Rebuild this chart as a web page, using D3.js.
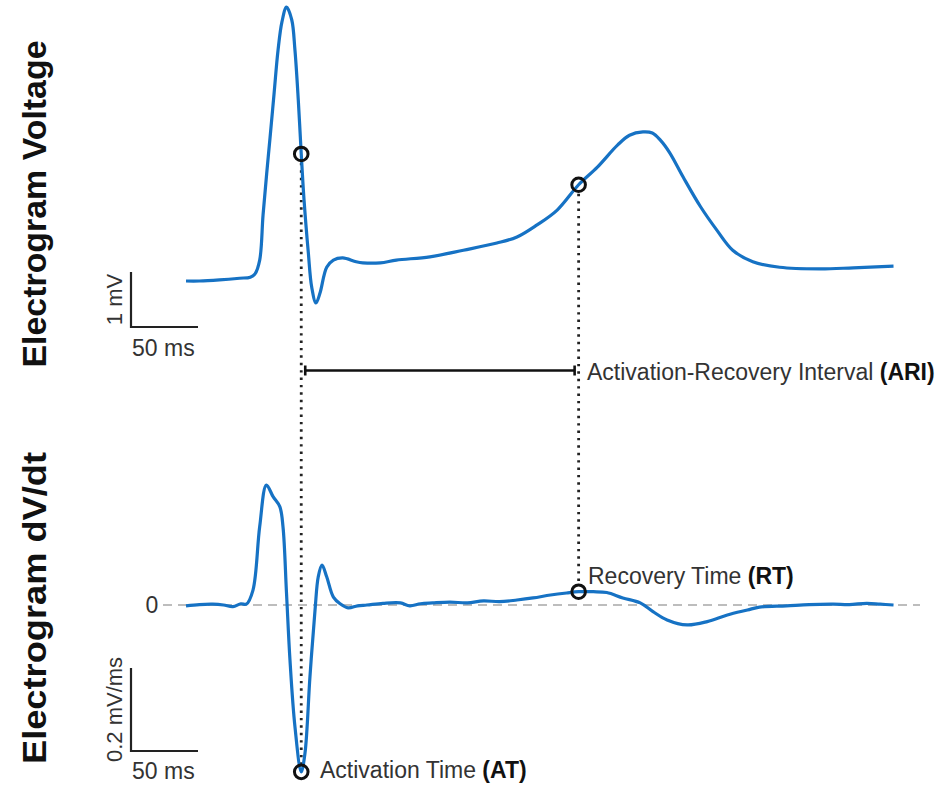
<!DOCTYPE html>
<html>
<head>
<meta charset="utf-8">
<script src="https://cdn.jsdelivr.net/npm/d3@7"></script>
<style>
  body { margin: 0; background: #fff; }
  text { font-family: "Liberation Sans", Arial, sans-serif; }
</style>
</head>
<body>
<div id="chart"></div>
<script>
// electrogram voltage (mV)
var volt_t = [0, 10, 25, 40, 48, 51.5, 55, 57.5, 60.2, 62.7, 65.7, 68.7, 71.6, 75, 78.9, 81.3, 83.8, 86, 88.1, 91.3, 93.8,
	97, 100, 105, 110, 117, 127, 132, 145, 157, 182, 207, 232, 247, 262, 277, 293, 307, 322, 331, 341,
	348, 354, 361, 371, 384, 396, 408, 423, 443, 473, 498, 528];
var volt_v = [0, 0, 0.02, 0.05, 0.07, 0.13, 0.38, 1.2, 1.95, 2.6, 3.4, 4.2, 4.71, 4.98, 4.75, 4.2, 3.29, 2.31, 1.47, 0.51, -0.11,
	-0.4, -0.22, 0.25, 0.38, 0.42, 0.35, 0.33, 0.33, 0.38, 0.44, 0.56, 0.69, 0.8, 1.02, 1.29, 1.75, 2.07, 2.47, 2.65, 2.71,
	2.69, 2.56, 2.33, 1.89, 1.35, 0.93, 0.56, 0.35, 0.25, 0.22, 0.24, 0.27];

// electrogram dV/dt (mV/ms)
var dvdt_t = [0, 10, 20, 28, 35, 41, 45, 50, 55, 60, 65, 70, 72.4, 75, 77.6, 81.3, 86, 88.8, 92.5, 96.3,
	98.7, 101.5, 105, 110, 115, 121, 128, 135, 147, 160, 167, 175, 184, 197, 210, 222, 234, 247, 259, 272,
	284, 293, 304, 314, 326, 339, 348.5, 359, 374, 389, 404, 419, 428, 448, 465, 483, 495, 508, 518, 528];
var dvdt_v = [-0.002, 0.001, 0.002, 0.0, -0.004, 0.003, 0.002, 0.036, 0.189, 0.289, 0.261, 0.237, 0.188, 0.029, -0.133, -0.293, -0.402, -0.357, -0.173, -0.012,
	0.068, 0.096, 0.068, 0.019, 0.003, -0.007, -0.002, 0, 0.004, 0.005, -0.002, 0.003, 0.005, 0.007, 0.005, 0.01, 0.008, 0.012, 0.017, 0.024,
	0.029, 0.032, 0.032, 0.03, 0.017, 0.005, -0.016, -0.036, -0.048, -0.040, -0.024, -0.012, -0.005, -0.002, 0.001, 0.002, 0.001, 0.004, 0.002, 0];

// markers (ms)
var at_time = 86;
var rt_time = 293;

// scale bar sizes and labels
var bar_ms = 50;
var bar_mv = 1;
var bar_dvdt = 0.2;
var titles = ['Electrogram Voltage', 'Electrogram dV/dt'];


var chart_width  = 938;
var chart_height = 788;
var trace_color  = '#1672c4';

var svg = d3.select('#chart')
	.append('svg')
	.attr('width', chart_width)
	.attr('height', chart_height);

// scales
var x_scale = d3.scaleLinear()
	.domain([0, 530])
	.range([186, 896.2]);

var y_volt = d3.scaleLinear()
	.domain([0, 5])
	.range([281, 6]);

var y_dvdt = d3.scaleLinear()
	.domain([-0.4, 0.3])
	.range([771, 480.5]);

var volt_data = volt_t.map(function(t, i){ return [t, volt_v[i]]; });
var dvdt_data = dvdt_t.map(function(t, i){ return [t, dvdt_v[i]]; });

function value_at(data, t){
	return data.find(function(d){ return d[0] === t; })[1];
}

// zero line (dV/dt)
svg.append('line')
	.attr('x1', 163)
	.attr('x2', 920)
	.attr('y1', y_dvdt(0))
	.attr('y2', y_dvdt(0))
	.attr('stroke', '#a8a8a8')
	.attr('stroke-width', 1.5)
	.attr('stroke-dasharray', '9,6');

svg.append('text')
	.attr('x', 152)
	.attr('y', y_dvdt(0) + 8)
	.attr('text-anchor', 'middle')
	.attr('font-size', 23)
	.attr('fill', '#333')
	.text('0');

// dotted guide lines
[at_time, rt_time].forEach(function(t){
	svg.append('line')
		.attr('x1', x_scale(t))
		.attr('x2', x_scale(t))
		.attr('y1', y_volt(value_at(volt_data, t)) + 9)
		.attr('y2', y_dvdt(value_at(dvdt_data, t)) - 7)
		.attr('stroke', '#222')
		.attr('stroke-width', 2.8)
		.attr('stroke-dasharray', '2.4,5');
});

// traces
var line = function(y){
	return d3.line()
		.x(function(d){ return x_scale(d[0]); })
		.y(function(d){ return y(d[1]); })
		.curve(d3.curveCatmullRom.alpha(0.5));
};

svg.append('path')
	.datum(volt_data)
	.attr('d', line(y_volt))
	.attr('fill', 'none')
	.attr('stroke', trace_color)
	.attr('stroke-width', 3.2)
	.attr('stroke-linejoin', 'round');

svg.append('path')
	.datum(dvdt_data)
	.attr('d', line(y_dvdt))
	.attr('fill', 'none')
	.attr('stroke', trace_color)
	.attr('stroke-width', 3.2)
	.attr('stroke-linejoin', 'round');

// marker circles
var markers = [
	[at_time, y_volt(value_at(volt_data, at_time))],
	[rt_time, y_volt(value_at(volt_data, rt_time))],
	[at_time, y_dvdt(value_at(dvdt_data, at_time))],
	[rt_time, y_dvdt(value_at(dvdt_data, rt_time))]
];

svg.selectAll('circle.marker')
	.data(markers)
	.enter()
	.append('circle')
	.attr('class', 'marker')
	.attr('cx', function(d){ return x_scale(d[0]); })
	.attr('cy', function(d){ return d[1]; })
	.attr('r', 6.8)
	.attr('fill', 'none')
	.attr('stroke', '#111')
	.attr('stroke-width', 3);

// ARI bracket
var ari_y = 370.5;
var ari_x1 = x_scale(at_time) + 4;
var ari_x2 = x_scale(rt_time) - 4;
svg.append('line')
	.attr('x1', ari_x1).attr('x2', ari_x2)
	.attr('y1', ari_y).attr('y2', ari_y)
	.attr('stroke', '#111').attr('stroke-width', 2.6);
[ari_x1, ari_x2].forEach(function(x){
	svg.append('line')
		.attr('x1', x).attr('x2', x)
		.attr('y1', ari_y - 5).attr('y2', ari_y + 5)
		.attr('stroke', '#111').attr('stroke-width', 2.6);
});

// annotations
function label(x, y, normal, bold){
	var t = svg.append('text')
		.attr('x', x)
		.attr('y', y)
		.attr('font-size', 23)
		.attr('fill', '#333');
	t.append('tspan').text(normal);
	t.append('tspan').attr('font-weight', 'bold').attr('fill', '#111').text(bold);
}
label(587, 380, 'Activation-Recovery Interval ', '(ARI)');
label(588, 584, 'Recovery Time ', '(RT)');
label(320, 778, 'Activation Time ', '(AT)');

// scale bars
function scale_bar(bottom, height, vlabel, hlabel_y){
	var left = 131;
	var w = x_scale(bar_ms) - x_scale(0);
	svg.append('path')
		.attr('d', 'M' + left + ',' + (bottom - height) + 'V' + bottom + 'H' + (left + w))
		.attr('fill', 'none')
		.attr('stroke', '#222')
		.attr('stroke-width', 2.2);
	svg.append('text')
		.attr('transform', 'translate(' + (left - 9) + ',' + (bottom - height / 2) + ') rotate(-90)')
		.attr('text-anchor', 'middle')
		.attr('font-size', 22)
		.attr('fill', '#333')
		.text(vlabel);
	svg.append('text')
		.attr('x', left + 1)
		.attr('y', hlabel_y)
		.attr('font-size', 23)
		.attr('fill', '#333')
		.text(bar_ms + ' ms');
}
scale_bar(327, y_volt(0) - y_volt(bar_mv), bar_mv + ' mV', 356);
scale_bar(751, y_dvdt(0) - y_dvdt(bar_dvdt), bar_dvdt + ' mV/ms', 779);

// side titles
[[204, titles[0], 327], [608, titles[1], 312]].forEach(function(d){
	svg.append('text')
		.attr('transform', 'translate(46,' + d[0] + ') rotate(-90)')
		.attr('text-anchor', 'middle')
		.attr('font-size', 34)
		.attr('font-weight', 'bold')
		.attr('fill', '#111')
		.attr('textLength', d[2])
		.attr('lengthAdjust', 'spacingAndGlyphs')
		.text(d[1]);
});
</script>
</body>
</html>
